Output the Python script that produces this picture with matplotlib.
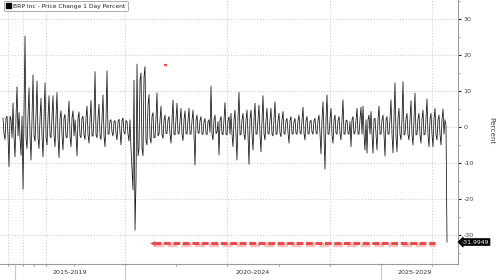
import numpy as np
import matplotlib
matplotlib.use("Agg")
import matplotlib.pyplot as plt
from matplotlib.patches import Patch
from matplotlib.lines import Line2D
from matplotlib.transforms import blended_transform_factory

# ---- data (daily % change) ----
start_year = 2017.616
end_year = 2026.293
values = [
    2.5, -2, -3.5, 2.5, 3, -2.5, -11, 3, 2, -3, 6.7, -2.8, -8.3, 3, 11.2, -2.5, 4, -3, -7.9, 3,
    -17.3, 3.5, 25.3, -3, -6, 3, 10.9, -2.5, -9.2, 3, 14.5, -2.5, -4, 3.2, 12.8, -3, -6, 2.5, 8, -2.8,
    -8.3, 2.8, 12.2, -3, -5, 2.5, 8.7, -2.5, -3, 3, 8.7, -2.2, -5.5, 2.8, 9.6, -3, -8.5, 2.5, 4.5, -2.5,
    -6.4, 2.5, 3.5, -2.8, -3, 2.2, 7.2, -2.5, -5.5, 2.5, 4.5, -2.5, 2, -2.2, -8, 2.5, 4.2, -2.5, -3, 2.5,
    3, -2.2, -3.5, 2.5, 5.8, -2.2, -4.5, 2.2, 7.4, -2.5, -2.5, 2.5, 15.4, -2.2, -3, 2.5, 6.3, -2.5, -3.5, 2.2,
    8.9, -2.5, -5.5, 2.2, 15.6, -2, -2, 1.8, 2, -1.5, -2.5, 1.5, 1.8, -1.8, -3.6, 1.5, 2.2, -1.5, -5, 1.8,
    2.5, -1.5, -2, 1.8, 1.5, -2, -3.9, 2, -6, -12, -17.5, 13, -28.7, -15, 17.5, -8, -6, 13, 15, -6,
    -8, 14, 16.8, -4, -5, 6, 9, -3, -4.5, 3, 4, -3, -3, 2.5, 9.5, -2.5, -2, 2, 5.8, -2,
    -3.2, 2, 3.3, -1.8, -1.8, 2, 2.9, -2, -4.5, 2, 7.5, -2, -2.2, 2.2, 6.6, -1.8, -2, 1.8, 5.2, -2,
    -3.8, 2, 4.5, -1.8, -2, 2, 5.2, -2, -2, 1.8, 4.7, -2, -10.6, 2, 3.3, -1.5, -1.8, 1.8, 2.9, -2,
    -2, 1.5, 2.4, -1.8, -2.2, 1.5, 2, -1.5, 11.4, -2, -3.6, 2, 3.3, -1.8, -1.5, 1.5, -7.8, 2, 2.9, -1.8,
    -2.2, 2, 6.8, -2, -2.2, 1.8, 2.9, -2, 3.8, -2, -5.5, 2, 4.7, -2.5, -9.2, 2.5, 9.7, -2.2, -2, 2,
    3.8, -2, -3.6, 2, 4.7, -2.2, -10.4, 2.2, 4.7, -2, -6.4, 2.2, 6.6, -2, -2, 2.2, 6.1, -2.2, -6.9, 2,
    8.7, -2, -3.6, 2, 5.2, -1.8, -2, 2, 5.2, -2, -2.5, 2.2, 7.0, -2, -2, 1.8, 3.8, -1.8, -2.7, 2,
    4.3, -1.8, -2, 1.8, 2.4, -1.5, -4.5, 1.8, 2.9, -1.8, -2, 1.5, 2.4, -1.8, -2, 1.8, 3.3, -1.5, -2, 1.8,
    5.5, -1.8, -3.6, 1.8, 2.9, -1.8, -2, 1.5, 1.9, -1.5, -2, 1.8, 2.4, -1.5, -2, 1.8, 3.3, -1.8, -7.5, 2,
    7.0, -2, -11.7, 2.2, 8.9, -2, -2, 2, 5.2, -2, -4.5, 2, 3.3, -1.8, -2, 1.8, 2.9, -1.8, -3.6, 2,
    7.5, -2, -2, 1.8, 1.9, -1.8, -2, 1.5, -5.5, 2, 2.9, -2, -1.5, 2, 5.2, -2, -2, 2, 5.5, -2,
    5.8, -2, -6.4, 2, -7.3, 2, 3.3, -2, 4.3, -2, -7.3, 2.2, 2.4, -2, -6.4, 2, 5.8, -2, -2, 2,
    3.3, -2, -8.1, 2, 2.9, -2, -2, 2.2, 7.5, -2, -7.2, 2.5, 12.3, -2.5, -6.9, 2.5, 5.2, -2, -3.6, 2.2,
    12.6, -2.2, -2, 2.2, 3.8, -2.2, -3.6, 2.2, 7.3, -2.2, -5, 2.5, 9.4, -2.2, -2, 2.2, 3.8, -2.2, -4.5, 2.2,
    4.7, -2.2, -2, 2.2, 7.8, -2.2, -5.5, 2.2, 3.8, -2, -5.5, 2.2, 5.2, -2.2, -3.6, 2, 3.3, -2, -5, 2,
    5, -2, 2, 0.5, -31.9949,
]
last_value = -31.9949
series_name = "BRP Inc - Price Change 1 Day Percent"
y_ticks = [-30, -20, -10, 0, 10, 20, 30]
x_ticks = [2017.71, 2018.0, 2018.22, 2018.46, 2019, 2020, 2021, 2022, 2023, 2024, 2025, 2026]
x_grid = [2017.71, 2018.0, 2018.46, 2020, 2022, 2024, 2026]
x_separators = [2017.85, 2020, 2025]
period_labels = ["2015-2019", "2020-2024", "2025-2029"]
period_centers = [2018.925, 2022.5, 2025.66]
# annotations
arrow_y = -32.4
arrow_x0, arrow_x1 = 2020.52, 2026.05
red_mark = (2020.79, 17.2)

x = np.linspace(start_year, end_year, len(values))

fig = plt.figure(figsize=(5, 2.8), dpi=100)
fig.patch.set_facecolor("white")
ax = fig.add_axes([0, 1 - 264 / 280, 458 / 500, 264 / 280])
ax.set_facecolor("white")

ax.set_xlim(2017.557, 2026.508)
ax.set_ylim(-38.1, 35.3)

# grid
for yv in y_ticks:
    ax.axhline(yv, color="#c4c4c4", lw=0.7, linestyle=(0, (1, 2)), zorder=0)
for xv in x_grid:
    ax.axvline(xv, color="#c4c4c4", lw=0.7, linestyle=(0, (1, 2)), zorder=0)

ax.plot(x, values, color="#111111", lw=0.55, zorder=3)

# red annotation
ax.plot([arrow_x0 + 0.04, arrow_x1], [arrow_y - 0.5, arrow_y - 0.5], color="#f6c0c0",
        lw=3.2, solid_capstyle="butt", dashes=(2.2, 0.9), zorder=4)
ax.plot([arrow_x0 + 0.04, arrow_x1], [arrow_y, arrow_y], color="#ee4848",
        lw=2.2, solid_capstyle="butt", dashes=(2.2, 0.9), zorder=5)
ax.plot([arrow_x0], [arrow_y], marker="<", ms=3.5, color="#ee4848", mew=0, zorder=5)
ax.plot([red_mark[0] - 0.03, red_mark[0] + 0.03], [red_mark[1], red_mark[1]],
        color="#f05050", lw=1.6, solid_capstyle="butt", zorder=5)

# spines
for s in ["top", "left"]:
    ax.spines[s].set_visible(False)
for s in ["right", "bottom"]:
    ax.spines[s].set_color("#9a9a9a")
    ax.spines[s].set_linewidth(0.8)

# y axis on right
ax.yaxis.tick_right()
ax.set_yticks(y_ticks)
ax.set_yticklabels([str(v) for v in y_ticks])
ax.set_yticks(np.arange(-35, 36, 5), minor=True)
ax.tick_params(axis="y", which="major", labelsize=4.6, labelcolor="#444444",
               color="#222222", length=2.5, width=0.8, pad=1.5)
ax.tick_params(axis="y", which="minor", color="#888888", length=1.2, width=0.5)

# x axis
ax.set_xticks(x_ticks)
ax.set_xticklabels([])
ax.tick_params(axis="x", which="major", color="#888888", length=1.5, width=0.6)

trans = blended_transform_factory(ax.transData, ax.transAxes)
for xv in x_separators:
    ax.add_line(Line2D([xv, xv], [0, -16 / 264], transform=trans, color="#c8c8c8",
                       lw=0.8, clip_on=False))
for lab, xc in zip(period_labels, period_centers):
    ax.text(xc, -8 / 264, lab, transform=trans, ha="center", va="center",
            fontsize=4.6, color="#333333")

# legend
leg = ax.legend(handles=[Patch(facecolor="black", edgecolor="black", label=series_name)],
                loc="upper left", bbox_to_anchor=(4 / 458, 1 - 1 / 264), fontsize=4.3,
                handlelength=0.8, handleheight=0.9, handletextpad=0.4, borderpad=0.35,
                frameon=True, fancybox=True, borderaxespad=0)
leg.get_frame().set_edgecolor("#999999")
leg.get_frame().set_linewidth(0.7)
for t in leg.get_texts():
    t.set_color("#222222")

# last value label
tr2 = blended_transform_factory(ax.transAxes, ax.transData)
ax.text(1.008, last_value, f"{last_value:.4f}", transform=tr2, ha="left", va="center",
        fontsize=4.4, color="white",
        bbox=dict(boxstyle="larrow,pad=0.15", fc="black", ec="black", lw=0.5))

fig.text(491.7 / 500, 1 - 131 / 280, "Percent", rotation=270, ha="center", va="center",
         fontsize=5.2, color="#444444")

fig.savefig("out.png", dpi=100, facecolor="white")
